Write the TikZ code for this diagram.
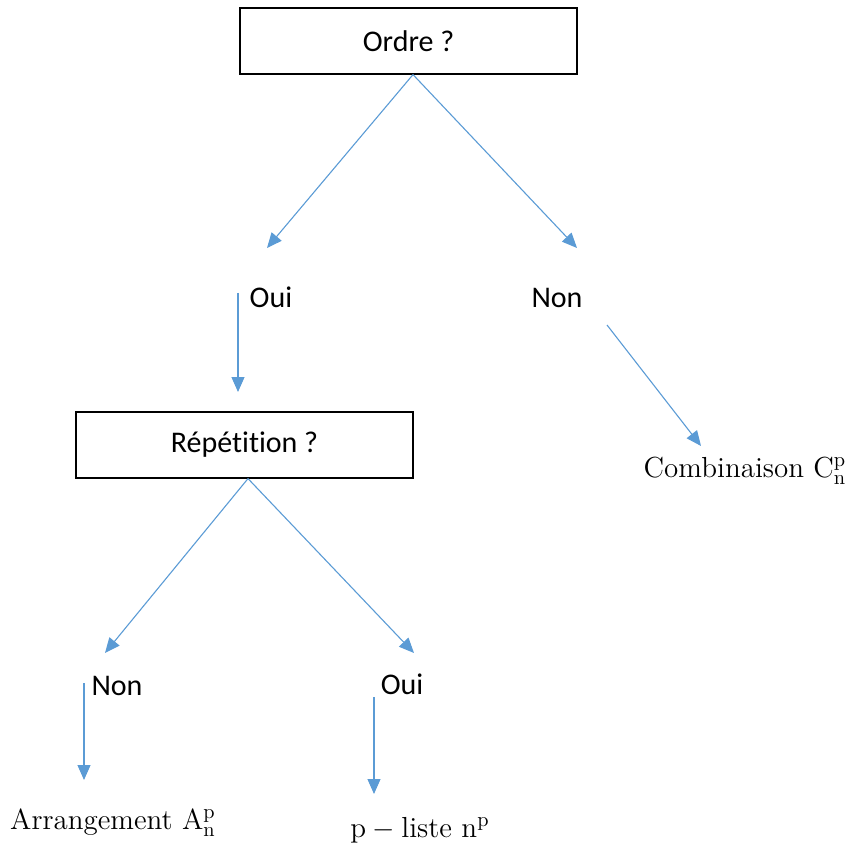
\documentclass[tikz,border=0pt]{standalone}
\usepackage{fontspec}
\setsansfont{Carlito}[Ligatures=NoCommon]
\usetikzlibrary{positioning,arrows.meta}
\definecolor{arrowblue}{RGB}{91,155,213}
\tikzset{
	question/.style={draw, line width=0.6pt, minimum width=168.5pt, minimum height=33pt, inner sep=0pt, font=\sffamily\fontsize{15}{18}\selectfont},
	answer/.style={anchor=base, inner sep=0pt, font=\sffamily\fontsize{15}{18}\selectfont},
	result/.style={anchor=base, inner sep=0pt, font=\rmfamily\fontsize{14.5}{18}\selectfont},
	branch/.style={draw=arrowblue, line width=0.55pt, -{Triangle[length=7.5pt,width=6.5pt]}}
}

\begin{document}
\begin{tikzpicture}[x=0.5pt,y=-0.5pt]
			\useasboundingbox (0,0) rectangle (846,845);
			
			%questions
			\node[question] (ordre) at (408.5,41) {Ordre ?};
			\node[question] (rep) at (244.5,445) {Répétition ?};
			
			%answers
			\node[answer] (oui1) at (271,307) {Oui};
			\node[answer] (non1) at (557,307) {Non};
			\node[answer] (non2) at (117,695) {Non};
			\node[answer] (oui2) at (402,694) {Oui};
			
			%results
			\node[result] (comb) at (745,477) {Combinaison $\mathrm{C}_{\mathrm{n}}^{\mathrm{p}}$};
			\node[result] (arr) at (113,829) {Arrangement $\mathrm{A}_{\mathrm{n}}^{\mathrm{p}}$};
			\node[result] (liste) at (420,837) {$\mathrm{p}-\mathrm{liste}\ \mathrm{n}^{\mathrm{p}}$};
			
			%free ends
			\coordinate (ordreL) at (267,248);
			\coordinate (ordreR) at (577,248);
			\coordinate (oui1s) at (238,293);
			\coordinate (oui1e) at (238,392);
			\coordinate (non1s) at (607,325);
			\coordinate (non1e) at (701,446);
			\coordinate (repL) at (105,653);
			\coordinate (repR) at (414,653);
			\coordinate (non2s) at (84,683);
			\coordinate (non2e) at (84,780);
			\coordinate (oui2s) at (374,697);
			\coordinate (oui2e) at (374,794);
			
			\draw[branch] (ordre.south) ++(4.5,0) -- (ordreL);
			\draw[branch] (ordre.south) ++(4.5,0) -- (ordreR);
			\draw[branch] (oui1s) -- (oui1e);
			\draw[branch] (non1s) -- (non1e);
			\draw[branch] (rep.south) ++(3.5,0) -- (repL);
			\draw[branch] (rep.south) ++(3.5,0) -- (repR);
			\draw[branch] (non2s) -- (non2e);
			\draw[branch] (oui2s) -- (oui2e);
			
\end{tikzpicture}
\end{document}
